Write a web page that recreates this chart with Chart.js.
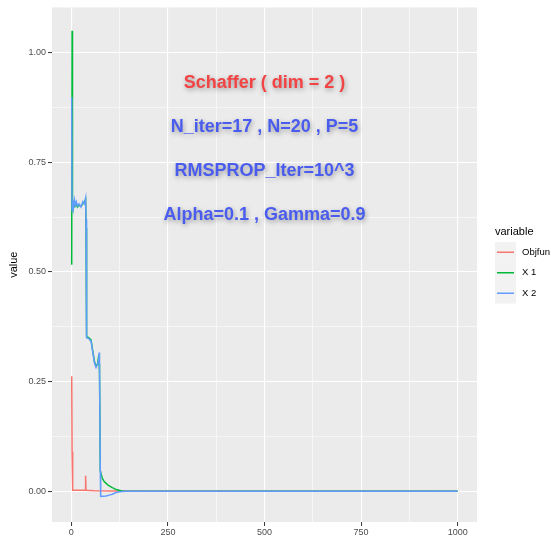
<!DOCTYPE html>
<html><head><meta charset="utf-8">
<script src="https://cdn.jsdelivr.net/npm/chart.js@4"></script>
<style>html,body{margin:0;padding:0;background:#fff;}canvas{display:block;}</style>
</head><body><canvas id="c" width="551" height="537"></canvas>
<script>
// ---- data ----
const seriesNames = ['Objfun', 'X 1', 'X 2'];
const seriesColors = ['#F8766D', '#00BA38', '#619CFF'];

const objfunX = [1, 2, 3, 4, 20, 36, 37, 38, 60, 100, 1000];
const objfunY = [0.262, 0.09, 0.08, 0.002, 0.002, 0.002, 0.035, 0.002, 0.001, 0.0005, 0];

const x1X = [1, 2, 3, 5, 8, 10, 13, 16, 20, 25, 30, 34, 37, 38, 39, 40, 45, 51, 55, 60, 64, 68, 71, 72, 73, 75, 80, 85, 95, 106, 118, 132, 150, 1000];
const x1Y = [0.516, 1.05, 0.66, 0.645, 0.66, 0.65, 0.655, 0.648, 0.652, 0.65, 0.655, 0.66, 0.665, 0.6, 0.42, 0.352, 0.35, 0.345, 0.322, 0.295, 0.285, 0.29, 0.31, 0.29, 0.27, 0.046, 0.03, 0.022, 0.014, 0.008, 0.003, 0.0005, 0, 0];

const x2X = [1, 2, 3, 5, 8, 10, 13, 16, 20, 25, 30, 34, 37, 38, 39, 40, 45, 51, 55, 60, 64, 68, 71, 72, 73, 75, 76, 90, 98, 106, 116, 130, 142, 1000];
const x2Y = [0.898, 0.64, 0.665, 0.645, 0.664, 0.652, 0.66, 0.65, 0.655, 0.648, 0.66, 0.655, 0.668, 0.62, 0.40, 0.35, 0.348, 0.342, 0.32, 0.292, 0.282, 0.29, 0.30, 0.316, 0.285, 0.046, -0.012, -0.011, -0.009, -0.007, -0.003, -0.001, 0, 0];

const xTickValues = [0, 250, 500, 750, 1000];
const xTickLabels = ['0', '250', '500', '750', '1000'];
const yTickValues = [0, 0.25, 0.5, 0.75, 1];
const yTickLabels = ['0.00', '0.25', '0.50', '0.75', '1.00'];

const annotationLines = ['Schaffer ( dim = 2 )', 'N_iter=17 , N=20 , P=5', 'RMSPROP_Iter=10^3', 'Alpha=0.1 , Gamma=0.9'];
const legendTitle = 'variable';
const yAxisTitle = 'value';

// ---- helpers ----
function pts(xs, ys) { return xs.map((x, i) => ({ x: x, y: ys[i] })); }
function withMinor(major) {
  const out = [];
  for (let i = 0; i < major.length; i++) {
    out.push(major[i]);
    if (i < major.length - 1) out.push((major[i] + major[i + 1]) / 2);
  }
  return out;
}
function isMajor(list, v) { return list.some(m => Math.abs(m - v) < 1e-9); }

const FONT = "'Liberation Sans', Arial, Helvetica, sans-serif";

const panelBg = {
  id: 'panelBg',
  beforeDraw(chart) {
    const { ctx, chartArea: a } = chart;
    ctx.save();
    ctx.fillStyle = '#EBEBEB';
    ctx.fillRect(a.left, a.top, a.right - a.left, a.bottom - a.top);
    ctx.restore();
  }
};

const annotations = {
  id: 'annotations',
  afterDatasetsDraw(chart) {
    const { ctx, scales } = chart;
    const yPos = [0.93, 0.83, 0.73, 0.63];
    const colors = ['#F24444', '#4A5CEE', '#4A5CEE', '#4A5CEE'];
    ctx.save();
    ctx.font = 'bold 18px ' + FONT;
    ctx.textAlign = 'center';
    ctx.textBaseline = 'middle';
    ctx.shadowColor = 'rgba(0,0,0,0.35)';
    ctx.shadowBlur = 5;
    ctx.shadowOffsetX = 1;
    ctx.shadowOffsetY = 2;
    annotationLines.forEach((t, i) => {
      ctx.fillStyle = colors[i];
      ctx.fillText(t, scales.x.getPixelForValue(500), scales.y.getPixelForValue(yPos[i]));
    });
    ctx.restore();
  }
};

const ggLegend = {
  id: 'ggLegend',
  afterDraw(chart) {
    const ctx = chart.ctx;
    ctx.save();
    ctx.textBaseline = 'middle';
    ctx.textAlign = 'left';
    ctx.fillStyle = '#000';
    ctx.font = '11px ' + FONT;
    ctx.fillText(legendTitle, 495, 232);
    const top = 242, keyH = 20.5, left = 495, keyW = 21;
    chart.data.datasets.forEach((ds, i) => {
      const y0 = top + i * keyH;
      ctx.fillStyle = '#F2F2F2';
      ctx.fillRect(left, y0, keyW, keyH);
      ctx.strokeStyle = ds.borderColor;
      ctx.lineWidth = 1.5;
      ctx.beginPath();
      ctx.moveTo(left + 2, y0 + keyH / 2);
      ctx.lineTo(left + keyW - 2, y0 + keyH / 2);
      ctx.stroke();
      ctx.fillStyle = '#000';
      ctx.font = '9.5px ' + FONT;
      ctx.fillText(ds.label, 522, y0 + keyH / 2);
    });
    ctx.restore();
  }
};

const datasets = [
  pts(objfunX, objfunY), pts(x1X, x1Y), pts(x2X, x2Y)
].map((d, i) => ({
  label: seriesNames[i],
  data: d,
  order: 3 - i,
  borderColor: seriesColors[i],
  backgroundColor: seriesColors[i],
  borderWidth: 1.5,
  pointRadius: 0,
  tension: 0,
  fill: false
}));

const xAll = withMinor(xTickValues);
const yAll = withMinor(yTickValues);

new Chart(document.getElementById('c'), {
  type: 'line',
  data: { datasets },
  plugins: [panelBg, annotations, ggLegend],
  options: {
    responsive: false,
    animation: false,
    devicePixelRatio: 1,
    layout: { padding: { left: 0, top: 7, right: 74, bottom: 0 } },
    plugins: { legend: { display: false }, tooltip: { enabled: false } },
    scales: {
      x: {
        type: 'linear',
        min: -50, max: 1050,
        afterBuildTicks: s => { s.ticks = xAll.map(v => ({ value: v })); },
        afterFit: s => { s.height = 15; },
        ticks: {
          autoSkip: false, maxRotation: 0, padding: 1,
          color: '#4D4D4D', font: { size: 9, family: FONT },
          callback: v => { const i = xTickValues.indexOf(v); return i >= 0 ? xTickLabels[i] : ''; }
        },
        grid: {
          color: '#FFFFFF',
          lineWidth: c => (c.tick && isMajor(xTickValues, c.tick.value)) ? 1.1 : 0.55,
          tickColor: c => (c.tick && isMajor(xTickValues, c.tick.value)) ? '#333333' : 'rgba(0,0,0,0)',
          tickWidth: 1,
          tickLength: 4
        },
        border: { display: false }
      },
      y: {
        type: 'linear',
        min: -0.0703, max: 1.103,
        afterBuildTicks: s => { s.ticks = yAll.map(v => ({ value: v })); },
        afterFit: s => { s.width = 52; },
        ticks: {
          autoSkip: false, padding: 2,
          color: '#4D4D4D', font: { size: 9, family: FONT },
          callback: v => { const i = yTickValues.findIndex(m => Math.abs(m - v) < 1e-9); return i >= 0 ? yTickLabels[i] : ''; }
        },
        title: {
          display: true, text: yAxisTitle, color: '#000',
          font: { size: 11, family: FONT }, padding: { top: 7, bottom: 0 }
        },
        grid: {
          color: '#FFFFFF',
          lineWidth: c => (c.tick && isMajor(yTickValues, c.tick.value)) ? 1.1 : 0.55,
          tickColor: c => (c.tick && isMajor(yTickValues, c.tick.value)) ? '#333333' : 'rgba(0,0,0,0)',
          tickWidth: 1,
          tickLength: 4
        },
        border: { display: false }
      }
    }
  }
});
</script>
</body></html>
